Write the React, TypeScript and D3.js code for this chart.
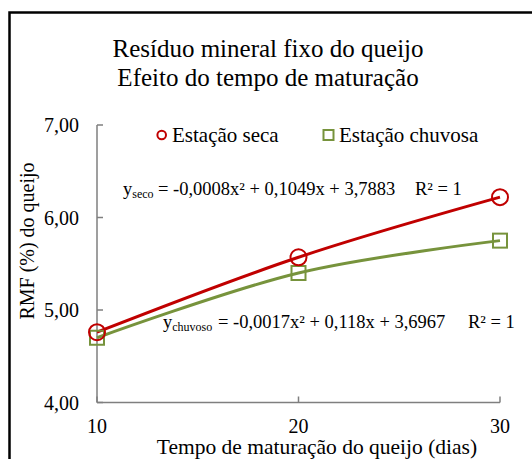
import React from "react";
import * as d3 from "d3";

const W = 532;
const H = 459;

const days = [10, 20, 30];
const seco = [4.76, 5.57, 6.22];
const chuvoso = [4.7, 5.4, 5.75];
const yTicks = [4, 5, 6, 7];
const xTicks = [10, 20, 30];

const titleLines = ["Resíduo mineral fixo do queijo", "Efeito do tempo de maturação"];
const xTitle = "Tempo de maturação do queijo (dias)";
const yTitle = "RMF (%) do queijo";
const legendLabels = ["Estação seca", "Estação chuvosa"];
const eqSeco = { sub: "seco", body: "= -0,0008x² + 0,1049x + 3,7883", r2: "R² = 1" };
const eqChuv = { sub: "chuvoso", body: "= -0,0017x² + 0,118x + 3,6967", r2: "R² = 1" };

const RED = "#C00000";
const GREEN = "#77933C";
const AXIS = "#7f7f7f";
const FONT = "'Liberation Serif', 'Times New Roman', serif";

const fmt = (v: number) => v.toFixed(2).replace(".", ",");

type Eq = { sub: string; body: string; r2: string };

function Equation({ eq, x0, xBody, xR2, y0 }: { eq: Eq; x0: number; xBody: number; xR2: number; y0: number }) {
  return (
    <g fill="#000">
      <text x={x0} y={y0} fontSize={18.5}>
        y<tspan fontSize={12} dy={3}>{eq.sub}</tspan>
      </text>
      <text x={xBody} y={y0} fontSize={18.5}>
        {eq.body}
      </text>
      <text x={xR2} y={y0} fontSize={18.5}>
        {eq.r2}
      </text>
    </g>
  );
}

export default function App() {
  const x = d3.scaleLinear().domain([10, 30]).range([97, 500]);
  const y = d3.scaleLinear().domain([4, 7]).range([402.5, 125]);

  const line = d3
    .line<[number, number]>()
    .x((d) => x(d[0]))
    .y((d) => y(d[1]))
    .curve(d3.curveCardinal.tension(0));

  const secoPts = days.map((d, i) => [d, seco[i]] as [number, number]);
  const chuvPts = days.map((d, i) => [d, chuvoso[i]] as [number, number]);

  return (
    <svg
      width={W}
      height={H}
      style={{ position: "absolute", left: 0, top: 0, background: "#fff" }}
      fontFamily={FONT}
    >
      <rect x={0} y={0} width={W} height={H} fill="#fff" />
      {/* chart frame, running past the right and bottom edges */}
      <rect x={9.5} y={12.5} width={700} height={700} fill="none" stroke="#000" strokeWidth={2.5} />

      {/* title */}
      {titleLines.map((t, i) => (
        <text key={t} x={268} y={57 + i * 29} textAnchor="middle" fontSize={25} fill="#000">
          {t}
        </text>
      ))}

      {/* axes */}
      <g stroke={AXIS} strokeWidth={1.5} fill="none">
        <line x1={x(10)} x2={x(10)} y1={y(7)} y2={y(4)} />
        <line x1={x(10)} x2={x(30)} y1={y(4)} y2={y(4)} />
        {yTicks.map((t) => (
          <line key={t} x1={x(10)} x2={x(10) + 6} y1={y(t)} y2={y(t)} />
        ))}
        {xTicks.map((t) => (
          <line key={t} x1={x(t)} x2={x(t)} y1={y(4)} y2={y(4) - 6} />
        ))}
      </g>

      {/* tick labels */}
      {yTicks.map((t) => (
        <text key={t} x={79} y={y(t) + 7} textAnchor="end" fontSize={20} fill="#000">
          {fmt(t)}
        </text>
      ))}
      {xTicks.map((t) => (
        <text key={t} x={x(t)} y={433} textAnchor="middle" fontSize={20} fill="#000">
          {t}
        </text>
      ))}

      {/* axis titles */}
      <text x={317} y={454} textAnchor="middle" fontSize={21.5} fill="#000">
        {xTitle}
      </text>
      <text
        transform={`translate(34,241) rotate(-90)`}
        textAnchor="middle"
        fontSize={20}
        fill="#000"
      >
        {yTitle}
      </text>

      {/* series */}
      <path d={line(chuvPts) ?? ""} fill="none" stroke={GREEN} strokeWidth={3} />
      <path d={line(secoPts) ?? ""} fill="none" stroke={RED} strokeWidth={3} />
      {chuvPts.map((p, i) => (
        <rect
          key={i}
          x={x(p[0]) - 7}
          y={y(p[1]) - 7}
          width={14}
          height={14}
          fill="none"
          stroke={GREEN}
          strokeWidth={2}
        />
      ))}
      {secoPts.map((p, i) => (
        <circle key={i} cx={x(p[0])} cy={y(p[1])} r={8} fill="none" stroke={RED} strokeWidth={2} />
      ))}

      {/* legend */}
      <circle cx={161.7} cy={135} r={4.3} fill="none" stroke={RED} strokeWidth={2} />
      <text x={172} y={142} fontSize={21} fill="#000">
        {legendLabels[0]}
      </text>
      <rect x={323.5} y={130} width={10} height={10} fill="none" stroke={GREEN} strokeWidth={2} />
      <text x={339} y={142} fontSize={21} fill="#000">
        {legendLabels[1]}
      </text>

      {/* trendline equations */}
      <Equation eq={eqSeco} x0={123} xBody={158} xR2={415} y0={195} />
      <Equation eq={eqChuv} x0={163} xBody={218} xR2={468} y0={328} />
    </svg>
  );
}
